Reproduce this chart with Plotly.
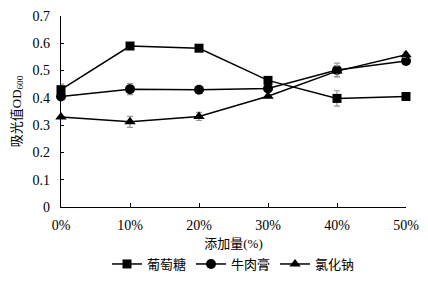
import plotly.graph_objects as go

x_vals = [0, 10, 20, 30, 40, 50]
x_labels = ["0%", "10%", "20%", "30%", "40%", "50%"]
series_names = ["葡萄糖", "牛肉膏", "氯化钠"]
glucose = [0.43, 0.59, 0.582, 0.464, 0.398, 0.405]
beef = [0.405, 0.432, 0.43, 0.434, 0.502, 0.535]
nacl = [0.33, 0.312, 0.332, 0.406, 0.498, 0.558]
glucose_err = [0.02, 0.0, 0.0, 0.0, 0.028, 0.0]
beef_err = [0.0, 0.02, 0.0, 0.0, 0.025, 0.0]
nacl_err = [0.0, 0.02, 0.015, 0.0, 0.02, 0.01]
symbols = ["square", "circle", "triangle-up"]
marker_sizes = [9, 10, 10]
y_ticks = [0, 0.1, 0.2, 0.3, 0.4, 0.5, 0.6, 0.7]
y_tick_labels = ["0", "0.1", "0.2", "0.3", "0.4", "0.5", "0.6", "0.7"]

font_family = "Times New Roman, Liberation Serif, Noto Sans CJK SC, serif"

fig = go.Figure()
for name, ys, errs, sym, ms in zip(series_names, [glucose, beef, nacl],
                                   [glucose_err, beef_err, nacl_err], symbols, marker_sizes):
    fig.add_trace(go.Scatter(
        x=x_vals, y=ys, name=name, mode="lines+markers",
        line=dict(color="black", width=1.5),
        marker=dict(symbol=sym, size=ms, color="black"),
        error_y=dict(type="data", array=errs, visible=True, color="#999999",
                     thickness=1.2, width=3),
        cliponaxis=False,
    ))

fig.update_layout(
    width=412, height=265,
    margin=dict(l=53, r=14, t=8, b=66, autoexpand=False),
    paper_bgcolor="white", plot_bgcolor="white",
    font=dict(family=font_family, size=14, color="black"),
    showlegend=True,
    legend=dict(orientation="h", x=0.5, xanchor="center",
                y=-0.22, yanchor="top",
                font=dict(size=13),
                tracegroupgap=0, bgcolor="rgba(0,0,0,0)"),
    xaxis=dict(range=[0, 50], tickvals=x_vals, ticktext=x_labels,
               showline=True, linecolor="black", linewidth=1.2,
               ticks="inside", ticklen=4, tickcolor="black",
               ticklabelstandoff=5, ticklabeloverflow="allow",
               showgrid=False, zeroline=False,
               title=dict(text="添加量(%)", font=dict(size=13), standoff=6)),
    yaxis=dict(range=[0, 0.7], tickvals=y_ticks, ticktext=y_tick_labels,
               showline=True, linecolor="black", linewidth=1.2,
               ticks="inside", ticklen=3, tickcolor="black",
               ticklabelstandoff=7, ticklabeloverflow="allow",
               showgrid=False, zeroline=False,
               title=dict(text="吸光值OD<sub>600</sub>", font=dict(size=13), standoff=8)),
)

fig.write_html("out.html")
